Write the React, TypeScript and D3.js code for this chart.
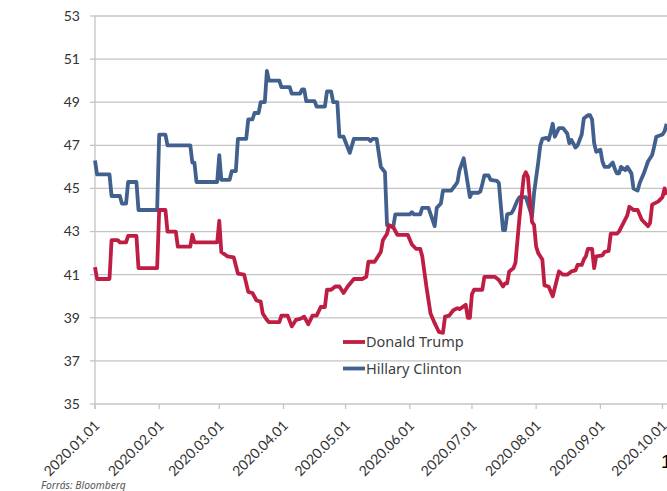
import React from "react";
import * as d3 from "d3";

const yTicks = [35, 37, 39, 41, 43, 45, 47, 49, 51, 53];
const monthTicks = [
  "2020-01-01", "2020-02-01", "2020-03-01", "2020-04-01", "2020-05-01",
  "2020-06-01", "2020-07-01", "2020-08-01", "2020-09-01", "2020-10-01",
];
const seriesNames = ["Donald Trump", "Hillary Clinton"];
const seriesColors = ["#BE1E43", "#41608E"];

const trumpData: [string, number][] = [
  ["2020-01-01", 41.35], ["2020-01-02", 40.8], ["2020-01-08", 40.8], ["2020-01-09", 42.6],
  ["2020-01-12", 42.6], ["2020-01-13", 42.5], ["2020-01-16", 42.5], ["2020-01-17", 42.8],
  ["2020-01-21", 42.8], ["2020-01-22", 41.3], ["2020-01-31", 41.3], ["2020-02-01", 44.0],
  ["2020-02-04", 44.0], ["2020-02-05", 43.0], ["2020-02-09", 43.0], ["2020-02-10", 42.3],
  ["2020-02-16", 42.3], ["2020-02-17", 42.85], ["2020-02-18", 42.5], ["2020-02-29", 42.5],
  ["2020-03-01", 43.5], ["2020-03-02", 42.05], ["2020-03-05", 41.85], ["2020-03-08", 41.8],
  ["2020-03-10", 41.05], ["2020-03-13", 41.0], ["2020-03-15", 40.2], ["2020-03-17", 40.15],
  ["2020-03-19", 39.8], ["2020-03-21", 39.75], ["2020-03-22", 39.2], ["2020-03-24", 38.9],
  ["2020-03-25", 38.8], ["2020-03-30", 38.8], ["2020-03-31", 39.1], ["2020-04-03", 39.1],
  ["2020-04-05", 38.6], ["2020-04-07", 38.9], ["2020-04-09", 38.95], ["2020-04-11", 39.05],
  ["2020-04-13", 38.7], ["2020-04-15", 39.1], ["2020-04-17", 39.1], ["2020-04-19", 39.5],
  ["2020-04-21", 39.5], ["2020-04-22", 40.3], ["2020-04-24", 40.3], ["2020-04-26", 40.45],
  ["2020-04-28", 40.45], ["2020-04-30", 40.15], ["2020-05-02", 40.45], ["2020-05-05", 40.8],
  ["2020-05-09", 40.8], ["2020-05-11", 40.9], ["2020-05-12", 41.6], ["2020-05-15", 41.6],
  ["2020-05-18", 42.05], ["2020-05-19", 42.6], ["2020-05-21", 42.9], ["2020-05-22", 43.3],
  ["2020-05-24", 43.2], ["2020-05-26", 42.85], ["2020-05-31", 42.85], ["2020-06-02", 42.4],
  ["2020-06-04", 42.2], ["2020-06-06", 42.2], ["2020-06-07", 41.85], ["2020-06-09", 40.45],
  ["2020-06-11", 39.2], ["2020-06-13", 38.75], ["2020-06-15", 38.35], ["2020-06-17", 38.3],
  ["2020-06-18", 39.05], ["2020-06-20", 39.1], ["2020-06-22", 39.35], ["2020-06-24", 39.45],
  ["2020-06-25", 39.4], ["2020-06-28", 39.6], ["2020-06-29", 39.0], ["2020-06-30", 39.0],
  ["2020-07-01", 40.1], ["2020-07-02", 40.3], ["2020-07-06", 40.3], ["2020-07-07", 40.9],
  ["2020-07-12", 40.9], ["2020-07-14", 40.75], ["2020-07-16", 40.45], ["2020-07-17", 40.6],
  ["2020-07-18", 40.6], ["2020-07-19", 41.15], ["2020-07-21", 41.3], ["2020-07-22", 41.55],
  ["2020-07-24", 43.7], ["2020-07-26", 45.55], ["2020-07-27", 45.75], ["2020-07-28", 45.55],
  ["2020-07-29", 44.45], ["2020-07-30", 43.45], ["2020-07-31", 43.3], ["2020-08-01", 42.3],
  ["2020-08-02", 42.0], ["2020-08-04", 41.7], ["2020-08-05", 40.5], ["2020-08-07", 40.45],
  ["2020-08-09", 40.0], ["2020-08-12", 41.15], ["2020-08-14", 41.0], ["2020-08-16", 41.0],
  ["2020-08-18", 41.15], ["2020-08-20", 41.2], ["2020-08-21", 41.45], ["2020-08-23", 41.45],
  ["2020-08-24", 41.7], ["2020-08-25", 41.85], ["2020-08-26", 42.2], ["2020-08-28", 42.2],
  ["2020-08-29", 41.3], ["2020-08-30", 41.85], ["2020-09-02", 41.9], ["2020-09-03", 42.05],
  ["2020-09-05", 42.1], ["2020-09-06", 42.9], ["2020-09-09", 42.9], ["2020-09-10", 43.0],
  ["2020-09-14", 43.75], ["2020-09-15", 44.15], ["2020-09-17", 44.0], ["2020-09-19", 44.0],
  ["2020-09-21", 43.55], ["2020-09-24", 43.25], ["2020-09-25", 43.4], ["2020-09-26", 44.25],
  ["2020-09-29", 44.4], ["2020-10-01", 44.6], ["2020-10-02", 45.0], ["2020-10-03", 44.7],
];

const clintonData: [string, number][] = [
  ["2020-01-01", 46.3], ["2020-01-02", 45.65], ["2020-01-08", 45.65], ["2020-01-09", 44.65],
  ["2020-01-13", 44.65], ["2020-01-14", 44.3], ["2020-01-16", 44.3], ["2020-01-17", 45.3],
  ["2020-01-21", 45.3], ["2020-01-22", 44.0], ["2020-01-31", 44.0], ["2020-02-01", 47.5],
  ["2020-02-04", 47.5], ["2020-02-05", 47.0], ["2020-02-16", 47.0], ["2020-02-17", 46.2],
  ["2020-02-18", 46.2], ["2020-02-19", 45.3], ["2020-02-29", 45.3], ["2020-03-01", 46.55],
  ["2020-03-02", 45.4], ["2020-03-06", 45.4], ["2020-03-07", 45.8], ["2020-03-09", 45.8],
  ["2020-03-10", 47.3], ["2020-03-14", 47.3], ["2020-03-15", 48.2], ["2020-03-17", 48.2],
  ["2020-03-18", 48.5], ["2020-03-20", 48.5], ["2020-03-21", 49.0], ["2020-03-23", 49.0],
  ["2020-03-24", 50.45], ["2020-03-25", 50.0], ["2020-03-30", 50.0], ["2020-03-31", 49.7],
  ["2020-04-04", 49.7], ["2020-04-05", 49.4], ["2020-04-09", 49.4], ["2020-04-10", 49.6],
  ["2020-04-11", 49.6], ["2020-04-12", 49.05], ["2020-04-16", 49.05], ["2020-04-17", 48.8],
  ["2020-04-21", 48.8], ["2020-04-22", 49.5], ["2020-04-24", 49.5], ["2020-04-25", 49.0],
  ["2020-04-27", 49.0], ["2020-04-28", 47.4], ["2020-04-30", 47.4], ["2020-05-03", 46.65],
  ["2020-05-05", 47.3], ["2020-05-12", 47.3], ["2020-05-13", 47.2], ["2020-05-14", 47.3],
  ["2020-05-16", 47.3], ["2020-05-18", 46.0], ["2020-05-20", 45.75], ["2020-05-21", 43.3],
  ["2020-05-24", 43.2], ["2020-05-25", 43.8], ["2020-06-01", 43.8], ["2020-06-02", 43.9],
  ["2020-06-03", 43.8], ["2020-06-06", 43.8], ["2020-06-07", 44.1], ["2020-06-10", 44.1],
  ["2020-06-13", 43.25], ["2020-06-14", 44.1], ["2020-06-16", 44.3], ["2020-06-17", 44.9],
  ["2020-06-21", 44.9], ["2020-06-23", 45.15], ["2020-06-24", 45.3], ["2020-06-25", 45.85],
  ["2020-06-27", 46.4], ["2020-06-30", 44.6], ["2020-07-01", 44.8], ["2020-07-04", 44.8],
  ["2020-07-05", 44.85], ["2020-07-06", 45.2], ["2020-07-07", 45.6], ["2020-07-09", 45.6],
  ["2020-07-10", 45.4], ["2020-07-13", 45.35], ["2020-07-14", 45.25], ["2020-07-15", 44.15],
  ["2020-07-16", 43.07], ["2020-07-17", 43.07], ["2020-07-18", 43.8], ["2020-07-20", 43.85],
  ["2020-07-21", 44.0], ["2020-07-23", 44.45], ["2020-07-24", 44.6], ["2020-07-27", 44.6],
  ["2020-07-29", 44.0], ["2020-07-30", 43.7], ["2020-07-31", 44.8], ["2020-08-02", 46.2],
  ["2020-08-03", 47.0], ["2020-08-04", 47.3], ["2020-08-06", 47.35], ["2020-08-07", 47.25],
  ["2020-08-08", 47.6], ["2020-08-09", 48.0], ["2020-08-10", 47.4], ["2020-08-11", 47.6],
  ["2020-08-12", 47.8], ["2020-08-14", 47.8], ["2020-08-16", 47.55], ["2020-08-17", 47.1],
  ["2020-08-18", 47.25], ["2020-08-20", 46.9], ["2020-08-21", 47.0], ["2020-08-23", 47.5],
  ["2020-08-24", 48.25], ["2020-08-26", 48.4], ["2020-08-27", 48.4], ["2020-08-28", 48.2],
  ["2020-08-29", 47.1], ["2020-08-30", 46.7], ["2020-09-01", 46.8], ["2020-09-02", 46.25],
  ["2020-09-03", 46.0], ["2020-09-05", 46.0], ["2020-09-07", 46.2], ["2020-09-08", 45.9],
  ["2020-09-09", 45.7], ["2020-09-10", 45.7], ["2020-09-11", 46.0], ["2020-09-13", 45.85],
  ["2020-09-14", 46.0], ["2020-09-16", 45.7], ["2020-09-17", 45.0], ["2020-09-19", 44.9],
  ["2020-09-20", 45.25], ["2020-09-22", 45.7], ["2020-09-24", 46.25], ["2020-09-26", 46.55],
  ["2020-09-27", 46.95], ["2020-09-28", 47.4], ["2020-10-01", 47.5], ["2020-10-02", 47.65],
  ["2020-10-03", 48.0],
];

const sourceText = "Forrás: Bloomberg";

const W = 667;
const H = 491;
const parse = d3.utcParse("%Y-%m-%d");
const fmt = d3.utcFormat("%Y.%m.%d");

export default function App() {
  const x = d3
    .scaleUtc()
    .domain([parse("2020-01-01")!, parse("2020-10-01")!])
    .range([95, 662.5]);
  const y = d3.scaleLinear().domain([35, 53]).range([404, 16]);
  const line = d3
    .line<[string, number]>()
    .x((d) => x(parse(d[0])!))
    .y((d) => y(d[1]));

  const axisFont = "Lato, 'Open Sans', sans-serif";
  const gridColor = "#c4c4c4";

  return (
    <svg
      width={W}
      height={H}
      style={{ position: "absolute", left: 0, top: 0, background: "#fff" }}
    >
      {yTicks.map((t) => (
        <line key={"g" + t} x1={95} x2={W} y1={y(t)} y2={y(t)} stroke={gridColor} strokeWidth={1.3} />
      ))}
      <line x1={95} x2={95} y1={y(53)} y2={y(35) + 5} stroke={gridColor} strokeWidth={1.3} />
      {yTicks.map((t) => (
        <g key={"y" + t}>
          <line x1={90} x2={95} y1={y(t)} y2={y(t)} stroke={gridColor} strokeWidth={1.3} />
          <text
            x={80}
            y={y(t)}
            dy="0.35em"
            textAnchor="end"
            fontFamily={axisFont}
            fontSize={14}
            fill="#333"
          >
            {t}
          </text>
        </g>
      ))}
      {monthTicks.map((m) => {
        const tx = x(parse(m)!);
        return (
          <g key={m}>
            <line x1={tx} x2={tx} y1={404} y2={409} stroke={gridColor} strokeWidth={1.3} />
            <text
              transform={`translate(${tx + 2},${423}) rotate(-45)`}
              dy="0.35em"
              textAnchor="end"
              fontFamily={axisFont}
              fontSize={14}
              fill="#333"
            >
              {fmt(parse(m)!)}
            </text>
          </g>
        );
      })}
      <path d={line(clintonData) || ""} fill="none" stroke={seriesColors[1]} strokeWidth={3.8} strokeLinejoin="round" />
      <path d={line(trumpData) || ""} fill="none" stroke={seriesColors[0]} strokeWidth={3.8} strokeLinejoin="round" />
      {seriesNames.map((n, i) => (
        <g key={n} transform={`translate(343,${342 + i * 26.5})`}>
          <line x1={0} x2={22} y1={0} y2={0} stroke={seriesColors[i]} strokeWidth={3.8} />
          <text
            x={23}
            y={0}
            dy="0.36em"
            fontFamily="'Noto Sans', sans-serif"
            fontSize={14.5}
            fill="#404040"
          >
            {n}
          </text>
        </g>
      ))}
      <text x={41} y={489} fontFamily="'Noto Sans', sans-serif" fontStyle="italic" fontSize={10.3} fill="#555">
        {sourceText}
      </text>
      <text x={661} y={468} fontFamily="'Liberation Sans', Arial, sans-serif" fontSize={19} fill="#000">
        1
      </text>
    </svg>
  );
}
